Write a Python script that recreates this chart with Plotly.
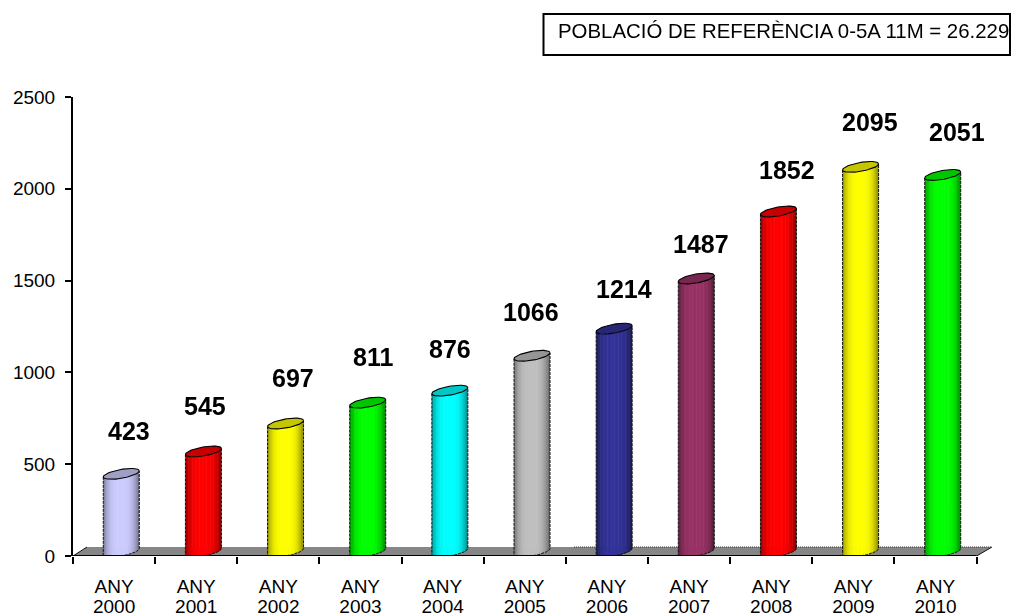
import plotly.graph_objects as go
import numpy as np

years = ["2000", "2001", "2002", "2003", "2004", "2005", "2006", "2007", "2008", "2009", "2010"]
values = [423, 545, 697, 811, 876, 1066, 1214, 1487, 1852, 2095, 2051]
colors = ["#CCCCFF", "#FF0000", "#FFFF00", "#00FF00", "#00FFFF", "#C0C0C0",
          "#333399", "#993366", "#FF0000", "#FFFF00", "#00FF00"]
y_ticks = [0, 500, 1000, 1500, 2000, 2500]
title_text = "POBLACIÓ DE REFERÈNCIA 0-5A 11M = 26.229"
# label nudges in px from the nominal bar position
label_dx = [15, 9, 15, 12, 7, 6, 17, 12, 16, 17, 21]
label_dy = [31, 34, 34, 34, 30, 32, 28, 23, 30, 33, 31]

W, H = 1011, 616
L, R, R2, T, B = 73, 976.6, 992, 97, 556
px_x = 11 / (R - L)
px_y = 2500 / (B - T)
DX, A, TILT, SEMI, DEPTH = 7.2, 18, 3, 4.5, 4.5
N = 26
x_range = [-0.5, 10.5 + (R2 - R) * px_x]


def shade(col, f):
    r, g, b = [int(col[i:i + 2], 16) for i in (1, 3, 5)]
    return f"rgb({int(r*f)},{int(g*f)},{int(b*f)})"


def ellipse(cx, cy):
    t = np.linspace(0, 2 * np.pi, 60)
    return (cx + A * px_x * np.cos(t),
            cy + (TILT * np.cos(t) + SEMI * np.sin(t)) * px_y)


fig = go.Figure()


def poly(x, y, fill, line=None, w=0):
    fig.add_trace(go.Scatter(
        x=x, y=y, mode="lines" if line else "none", fill="toself", fillcolor=fill,
        line=dict(color=line or fill, width=w), hoverinfo="skip", showlegend=False,
        cliponaxis=False, xaxis="x", yaxis="y"))


# floor
fx0, fx1 = -0.5, 10.5
fx0b, fx1b = fx0 + 14 * px_x, fx1 + 15.4 * px_x
fy = 9 * px_y
poly([fx0, fx0b, fx1b, fx1, fx0], [0, fy, fy, 0, 0], "#868686")
fig.add_trace(go.Scatter(x=[fx0, fx0b, None, fx1, fx1b], y=[0, fy, None, 0, fy], mode="lines",
                         line=dict(color="#111111", width=1), hoverinfo="skip",
                         showlegend=False, cliponaxis=False))
fig.add_trace(go.Scatter(x=[5.6, fx1b], y=[fy, fy], mode="lines",
                         line=dict(color="#333333", width=1, dash="1px,1px"), hoverinfo="skip",
                         showlegend=False, cliponaxis=False))

for i, (v, c) in enumerate(zip(values, colors)):
    cx = i + DX * px_x
    base = DEPTH * px_y
    top = v + DEPTH * px_y
    edges = np.linspace(-1, 1, N + 1)
    for k in range(N):
        uu = np.linspace(edges[k], min(edges[k + 1] + 0.03, 1), 4)
        mid = (edges[k] + edges[k + 1]) / 2
        f = 1 - 0.42 * abs(mid - 0.0) ** 3.5 if mid < 0 else 1 - 0.5 * abs(mid) ** 3
        xs = cx + uu * A * px_x
        lower = base + (TILT * uu - SEMI * np.sqrt(1 - uu ** 2)) * px_y
        upper = top + (TILT * uu - SEMI * np.sqrt(1 - uu ** 2)) * px_y
        poly(np.r_[xs, xs[::-1], xs[0]], np.r_[upper, lower[::-1], upper[0]], shade(c, f))
    # outline
    uu = np.linspace(-1, 1, 40)
    xs = cx + uu * A * px_x
    lower = base + (TILT * uu - SEMI * np.sqrt(1 - uu ** 2)) * px_y
    fig.add_trace(go.Scatter(
        x=np.r_[xs[0], xs, xs[-1]],
        y=np.r_[top - TILT * px_y, lower, top + TILT * px_y],
        mode="lines", line=dict(color="#111111", width=1, dash="3px,1px"),
        hoverinfo="skip", showlegend=False, cliponaxis=False))
    ex, ey = ellipse(cx, top)
    poly(ex, ey, shade(c, 0.78), "#000000", 1.1)

# axis line along the floor front
fig.add_trace(go.Scatter(x=[-0.5, 10.5], y=[0, 0], mode="lines",
                         line=dict(color="black", width=2), hoverinfo="skip",
                         showlegend=False, cliponaxis=False))
# carriers for the two rows of category labels on the overlay axes
for ax in ("x2", "x3"):
    fig.add_trace(go.Scatter(x=list(range(11)), y=values, mode="markers", opacity=0,
                             xaxis=ax, yaxis="y", hoverinfo="skip", showlegend=False))

annotations = [dict(x=i, y=v, xref="x", yref="y", text=f"<b>{v}</b>", showarrow=False,
                    xshift=dx, yshift=dy, yanchor="bottom", xanchor="center",
                    font=dict(family="Liberation Sans", size=25, color="black"))
               for i, (v, dx, dy) in enumerate(zip(values, label_dx, label_dy))]
annotations.append(dict(x=556 / W, y=1 - 31 / H, xref="paper", yref="paper", text=title_text,
                        showarrow=False, xanchor="left", yanchor="middle",
                        font=dict(family="Liberation Sans", size=20.4, color="black")))

dom = [L / W, R2 / W]


def label_axis(ticktext, standoff):
    return dict(domain=dom, range=x_range, overlaying="x", side="bottom", anchor="y",
                tickmode="array", tickvals=list(range(11)), ticktext=ticktext, ticks="",
                ticklabelstandoff=standoff, showline=False, showgrid=False, zeroline=False,
                tickfont=dict(size=19, color="black"))


fig.update_layout(
    width=W, height=H, paper_bgcolor="white", plot_bgcolor="white", showlegend=False,
    margin=dict(l=0, r=0, t=0, b=0, pad=0, autoexpand=False),
    font=dict(family="Liberation Sans", size=19, color="black"),
    xaxis=dict(domain=dom, range=x_range, tickmode="array",
               tickvals=[x - 0.5 for x in range(12)], ticktext=[""] * 12,
               ticks="outside", ticklen=7, tickwidth=1.5, tickcolor="black",
               showline=False, showgrid=False, zeroline=False, anchor="y"),
    xaxis2=label_axis(["ANY"] * 11, 17),
    xaxis3=label_axis(years, 37),
    yaxis=dict(domain=[1 - B / H, 1 - T / H], range=[0, 2500], tickmode="array",
               tickvals=y_ticks, ticks="outside", ticklen=6, tickwidth=1.5,
               tickcolor="black", showline=True, linecolor="black", linewidth=2,
               showgrid=False, zeroline=False, ticklabelstandoff=6,
               tickfont=dict(size=19, color="black"), anchor="x"),
    annotations=annotations,
    shapes=[dict(type="rect", xref="paper", yref="paper", x0=543.5 / W, x1=1010 / W,
                 y0=1 - 55 / H, y1=1 - 14 / H, line=dict(color="black", width=2),
                 fillcolor="white", layer="below")],
)
fig.write_html("out.html", config=dict(displayModeBar=False),
               post_script="document.body.style.margin='0';document.body.style.overflow='hidden';window.scrollTo(0,0);")
